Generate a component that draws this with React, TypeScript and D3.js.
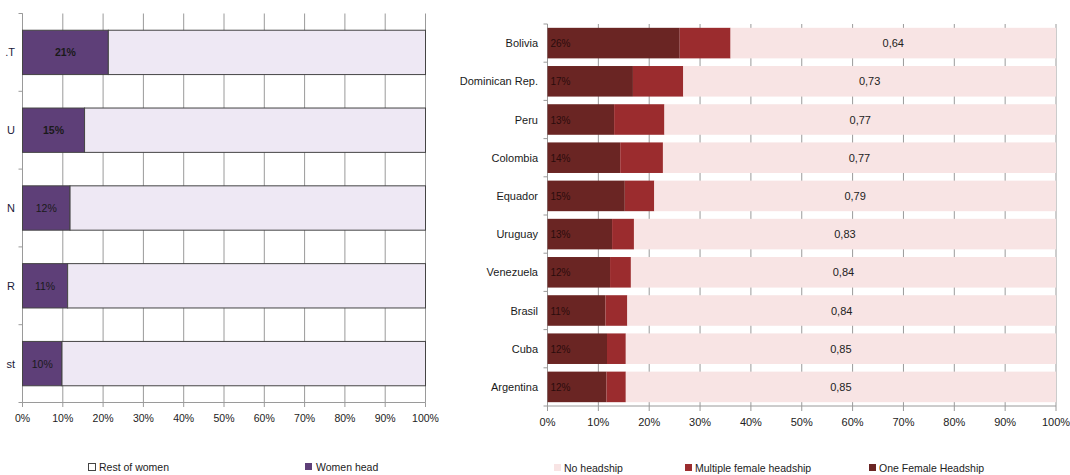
import React from "react";
import * as d3 from "d3";

// Left chart data
const leftCategories = [".T", "U", "N", "R", "st"];
const womenHead = [0.213, 0.154, 0.118, 0.112, 0.098];
const restOfWomen = [0.787, 0.846, 0.882, 0.888, 0.902];

// Right chart data
const countries = ["Bolivia", "Dominican Rep.", "Peru", "Colombia", "Equador", "Uruguay", "Venezuela", "Brasil", "Cuba", "Argentina"];
const oneFemale = [0.26, 0.168, 0.131, 0.143, 0.152, 0.127, 0.123, 0.114, 0.117, 0.116];
const multipleFemale = [0.10, 0.099, 0.099, 0.084, 0.058, 0.043, 0.041, 0.043, 0.037, 0.038];
const noHeadship = [0.64, 0.733, 0.77, 0.773, 0.79, 0.83, 0.84, 0.843, 0.85, 0.85];

const pctTicks = [0, 0.1, 0.2, 0.3, 0.4, 0.5, 0.6, 0.7, 0.8, 0.9, 1];

const FONT = "'Liberation Sans', Arial, sans-serif";
const C_ONE = "#6a2523";
const C_MULTI = "#9b2c2e";
const C_NO = "#f8e4e4";
const C_HEAD = "#5e3f78";
const C_REST = "#eee8f4";
const GRID = "#9a9a9a";

function LeftChart() {
  const x = d3.scaleLinear().domain([0, 1]).range([22.5, 425.5]);
  const y = d3.scaleBand<string>().domain(leftCategories).range([13.5, 402.5]).paddingInner(0.43).paddingOuter(0.215);
  const pct = d3.format(".0%");
  const step = y.step();
  return (
    <g>
      {pctTicks.map((t, i) => (
        <g key={i}>
          <line x1={x(t)} x2={x(t)} y1={13.5} y2={402.5} stroke={GRID} strokeWidth={1} />
          <line x1={x(t)} x2={x(t)} y1={402.5} y2={407} stroke={GRID} strokeWidth={1} />
          <text x={x(t)} y={422} textAnchor="middle" fontSize={10.5} fill="#222" fontFamily={FONT}>{pct(t)}</text>
        </g>
      ))}
      <line x1={x(0)} x2={x(1)} y1={402.5} y2={402.5} stroke={GRID} />
      <line x1={x(0)} x2={x(0)} y1={13.5} y2={402.5} stroke={GRID} />
      {d3.range(leftCategories.length + 1).map((i) => (
        <line key={i} x1={x(0) - 4} x2={x(0)} y1={13.5 + i * step} y2={13.5 + i * step} stroke={GRID} />
      ))}
      {leftCategories.map((c, i) => {
        const y0 = y(c)!;
        const h = y.bandwidth();
        return (
          <g key={c}>
            <rect x={x(0)} y={y0} width={x(womenHead[i]) - x(0)} height={h} fill={C_HEAD} stroke="#444" strokeWidth={1} />
            <rect x={x(womenHead[i])} y={y0} width={x(womenHead[i] + restOfWomen[i]) - x(womenHead[i])} height={h} fill={C_REST} stroke="#444" strokeWidth={1} />
            <text x={(x(0) + x(womenHead[i])) / 2} y={y0 + h / 2 + 4} textAnchor="middle" fontSize={10.5} fontWeight={i < 2 ? "bold" : "normal"} fill="#1a1a1a" fontFamily={FONT}>{pct(womenHead[i])}</text>
            <text x={15} y={y0 + h / 2 + 4} textAnchor="end" fontSize={11} fill="#1a1a3a" fontFamily={FONT}>{c}</text>
          </g>
        );
      })}
      <rect x={88.5} y={463.5} width={7} height={7} fill="#fff" stroke="#444" />
      <text x={99} y={471} fontSize={10.5} fill="#222" fontFamily={FONT}>Rest of women</text>
      <rect x={305} y={463} width={7} height={7} fill={C_HEAD} />
      <text x={316} y={471} fontSize={10.5} fill="#222" fontFamily={FONT}>Women head</text>
    </g>
  );
}

function RightChart() {
  const x = d3.scaleLinear().domain([0, 1]).range([547.5, 1056]).clamp(true);
  const y = d3.scaleBand<string>().domain(countries).range([24, 406]).paddingInner(0.2).paddingOuter(0.1);
  const step = y.step();
  const rows = countries.map((c, i) => ({ c, one: oneFemale[i], multi: multipleFemale[i], no: noHeadship[i] }));
  const stack = d3.stack<any>().keys(["one", "multi", "no"]);
  const series = stack(rows);
  const colors = [C_NO, C_MULTI, C_ONE];
  const fill: Record<string, string> = { one: C_ONE, multi: C_MULTI, no: C_NO };
  const pct = d3.format(".0%");
  const comma = (v: number) => d3.format(".2f")(v).replace(".", ",");
  return (
    <g>
      {pctTicks.map((t, i) => (
        <g key={i}>
          <line x1={x(t)} x2={x(t)} y1={24} y2={406} stroke={GRID} strokeWidth={1} />
          <line x1={x(t)} x2={x(t)} y1={406} y2={411} stroke={GRID} strokeWidth={1} />
          <text x={x(t)} y={426} textAnchor="middle" fontSize={11} fill="#222" fontFamily={FONT}>{pct(t)}</text>
        </g>
      ))}
      <line x1={x(0)} x2={x(1)} y1={406} y2={406} stroke={GRID} />
      <line x1={x(0)} x2={x(0)} y1={24} y2={406} stroke={GRID} />
      {d3.range(countries.length + 1).map((i) => (
        <line key={i} x1={x(0) - 4} x2={x(0)} y1={24 + i * step} y2={24 + i * step} stroke={GRID} />
      ))}
      {series.map((s) => (
        <g key={s.key}>
          {s.map((d, j) => (
            <rect key={j} x={x(d[0])} y={y(countries[j])!} width={Math.max(0, x(d[1]) - x(d[0]))} height={y.bandwidth()} fill={fill[s.key]} />
          ))}
        </g>
      ))}
      {rows.map((r) => {
        const y0 = y(r.c)! + y.bandwidth() / 2 + 4;
        const s0 = r.one + r.multi;
        return (
          <g key={r.c}>
            <text x={x(0) + 3} y={y0} fontSize={10} fill="#2a0c0c" fontFamily={FONT}>{pct(r.one)}</text>
            <text x={(x(s0) + x(1)) / 2} y={y0} textAnchor="middle" fontSize={11} fill="#222" fontFamily={FONT}>{comma(r.no)}</text>
            <text x={538} y={y0} textAnchor="end" fontSize={11} fill="#1a1a1a" fontFamily={FONT}>{r.c}</text>
          </g>
        );
      })}
      <rect x={554} y={464} width={7} height={7} fill={colors[0]} />
      <text x={564} y={471.5} fontSize={10.5} fill="#222" fontFamily={FONT}>No headship</text>
      <rect x={685} y={464} width={7} height={7} fill={colors[1]} />
      <text x={695} y={471.5} fontSize={10.5} fill="#222" fontFamily={FONT}>Multiple female headship</text>
      <rect x={869} y={464} width={7} height={7} fill={colors[2]} />
      <text x={879} y={471.5} fontSize={10.5} fill="#222" fontFamily={FONT}>One Female Headship</text>
    </g>
  );
}

export default function App() {
  return (
    <svg width={1070} height={475} style={{ position: "absolute", left: 0, top: 0, background: "#fff" }}>
      <rect width={1070} height={475} fill="#fff" />
      <LeftChart />
      <RightChart />
    </svg>
  );
}
